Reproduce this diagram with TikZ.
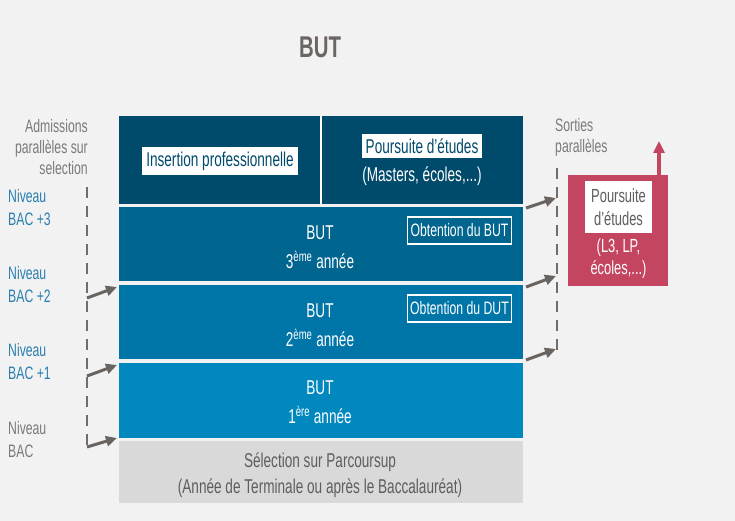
\documentclass[tikz,border=0pt]{standalone}
\usepackage{fontspec}
\setmainfont{Liberation Sans}[FakeStretch=0.68]
\usetikzlibrary{arrows.meta}
\definecolor{bg}{HTML}{F2F2F2}
\definecolor{titlegrey}{HTML}{6B6663}
\definecolor{labgrey}{HTML}{7A7A7A}
\definecolor{labblue}{HTML}{2A7FB0}
\definecolor{blk4}{HTML}{004A6B}
\definecolor{blk3}{HTML}{00658F}
\definecolor{blk2}{HTML}{0076A8}
\definecolor{blk1}{HTML}{0088BF}
\definecolor{selgrey}{HTML}{D9D9D9}
\definecolor{seltext}{HTML}{5E5E5E}
\definecolor{pink}{HTML}{C4455F}
\definecolor{arrgrey}{HTML}{6A6461}
\definecolor{dashgrey}{HTML}{6E6E6E}
\begin{document}
\begin{tikzpicture}[x=1pt,y=-1pt,
  block/.style={anchor=north west, inner sep=0pt, outer sep=0pt},
  wtxt/.style={text=white, font=\fontsize{20}{23}\selectfont},
  wbox/.style={fill=white, text=blk4, inner xsep=4pt, inner ysep=4.5pt, font=\fontsize{20}{23}\selectfont},
  obox/.style={draw=white, line width=1.5pt, text=white, minimum width=104pt, minimum height=27pt, inner sep=0pt, font=\fontsize{18}{21}\selectfont},
  lgrey/.style={text=labgrey, font=\fontsize{18}{21}\selectfont},
  lblue/.style={text=labblue, font=\fontsize{18}{23}\selectfont, align=left, anchor=north west, inner sep=0pt},
  dline/.style={dashgrey, line width=2pt, dash pattern=on 11pt off 8pt},
  parr/.style={arrgrey, line width=3pt, -{Triangle[length=11pt,width=10pt]}},
]
\fill[bg] (0,0) rectangle (735,521);
\useasboundingbox (0,0) rectangle (735,521);

% title
\node[text=titlegrey, font=\fontsize{30}{34}\selectfont\bfseries] (title) at (320,47) {BUT};

% blocks
\node[block, fill=blk4, minimum width=404pt, minimum height=88pt] (top) at (119,116) {};
\draw[white, line width=2.5pt] (top.north) -- (top.south);
\node[block, fill=blk3, minimum width=404pt, minimum height=74pt] (b3) at (119,207) {};
\node[block, fill=blk2, minimum width=404pt, minimum height=74pt] (b2) at (119,285) {};
\node[block, fill=blk1, minimum width=404pt, minimum height=75pt] (b1) at (119,363) {};
\node[block, fill=selgrey, minimum width=404pt, minimum height=62pt] (sel) at (119,441) {};

% top block content
\node[wbox] (ins) at (220,161) {Insertion professionnelle};
\node[wbox] (pou) at (422,146) {Poursuite d’études};
\node[wtxt] (mas) at (422,176) {(Masters, écoles,...)};

% BUT blocks content
\node[wtxt] (t3a) at (320,233) {BUT};
\node[wtxt] (t3b) at (320,260) {3\textsuperscript{ème} année};
\node[obox] (ob3) at (459.5,230.5) {Obtention du BUT};
\node[wtxt] (t2a) at (320,311) {BUT};
\node[wtxt] (t2b) at (320,338) {2\textsuperscript{ème} année};
\node[obox] (ob2) at (459.5,308.5) {Obtention du DUT};
\node[wtxt] (t1a) at (320,388) {BUT};
\node[wtxt] (t1b) at (320,415) {1\textsuperscript{ère} année};
\node[text=seltext, font=\fontsize{20}{23}\selectfont] (s1) at (320,462) {Sélection sur Parcoursup};
\node[text=seltext, font=\fontsize{20}{23}\selectfont] (s2) at (320,488) {(Année de Terminale ou après le Baccalauréat)};

% left labels
\node[lgrey, align=right, anchor=north east, inner sep=0pt] (adm) at (88,119) {Admissions\\parallèles sur\\selection};
\node[lblue] (n3) at (8,189) {Niveau\\BAC +3};
\node[lblue] (n2) at (8,266) {Niveau\\BAC +2};
\node[lblue] (n1) at (8,343) {Niveau\\BAC +1};
\node[lblue, text=labgrey] (n0) at (8,421) {Niveau\\BAC};

% left dashed line and arrows
\coordinate (ltop) at (87,187);
\coordinate (l2) at (87,298);
\coordinate (l1) at (87,376);
\coordinate (l0) at (87,447);
\coordinate (a2) at (117,287);
\coordinate (a1) at (117,365);
\coordinate (a0) at (117,438);
\draw[dline] (ltop) -- (l0);
\draw[parr] (l2) -- (a2);
\draw[parr] (l1) -- (a1);
\draw[parr] (l0) -- (a0);

% right labels
\node[lgrey, align=left, anchor=north west, inner sep=0pt] (sor) at (555,118) {Sorties\\parallèles};
\coordinate (rtop) at (557,168);
\coordinate (r3) at (556,198);
\coordinate (r2) at (556,276);
\coordinate (r1) at (556,349);
\coordinate (s3) at (526,208);
\coordinate (s2) at (526,287);
\coordinate (s1) at (526,360);
\draw[dline] (rtop) -- (557,352);
\draw[parr] (s3) -- (r3);
\draw[parr] (s2) -- (r2);
\draw[parr] (s1) -- (r1);

% pink box
\node[block, fill=pink, minimum width=100pt, minimum height=111pt] (pk) at (568,175) {};
\node[fill=white, text=seltext, minimum width=67pt, minimum height=52pt, inner sep=0pt, align=center, font=\fontsize{19}{23}\selectfont] (pkw) at (618.5,207) {Poursuite\\d’études};
\node[text=white, align=center, font=\fontsize{19}{22}\selectfont] (pkt) at (618.5,259) {(L3, LP,\\écoles,...)};
\coordinate (pup) at (659,141);
\draw[pink, line width=3.5pt, -{Triangle[length=12pt,width=11pt]}] (pk.north east -| pup) -- (pup);
\end{tikzpicture}
\end{document}
